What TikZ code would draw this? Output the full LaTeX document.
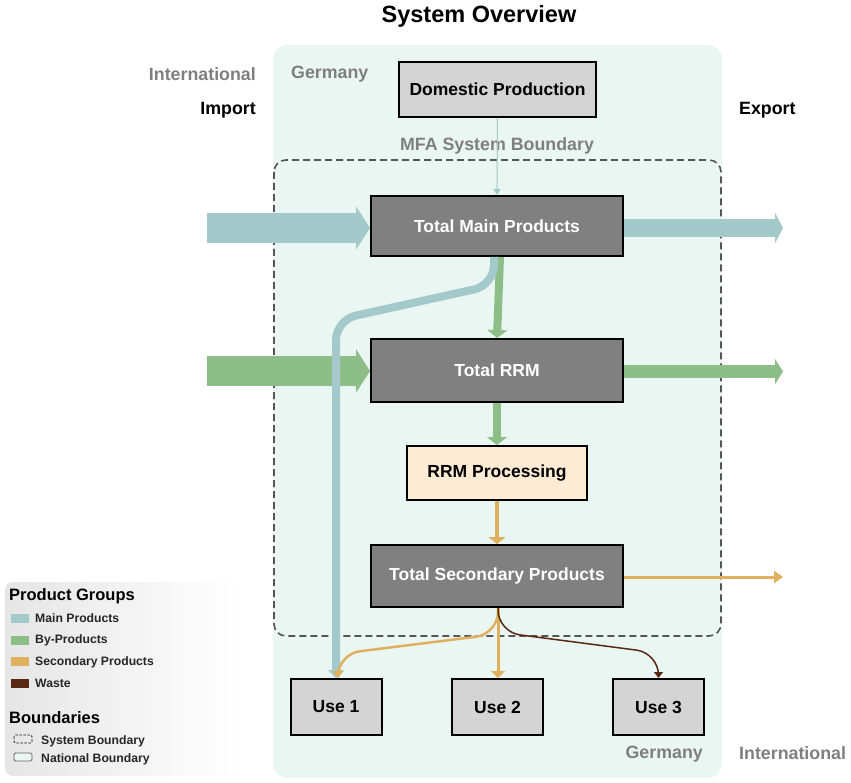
\documentclass[tikz,border=0pt]{standalone}
\usepackage{fontspec}
\setmainfont{Liberation Sans}
\usetikzlibrary{arrows.meta}
\definecolor{mainblue}{HTML}{A3C9CB}
\definecolor{bygreen}{HTML}{8DBE88}
\definecolor{secorange}{HTML}{DFB15F}
\definecolor{wastebrown}{HTML}{5A2812}
\definecolor{natmint}{HTML}{EAF6F2}
\definecolor{darkbox}{HTML}{808080}
\definecolor{lightbox}{HTML}{D4D4D4}
\definecolor{procfill}{HTML}{FDEBD3}
\definecolor{labelgray}{HTML}{7F7F7F}
\definecolor{dashgray}{HTML}{555555}
\tikzset{
  lbl/.style={font=\fontsize{17.8}{20}\selectfont\bfseries, inner sep=0pt},
  graylbl/.style={lbl, text=labelgray},
  boxbase/.style={draw=black, line width=2pt, font=\fontsize{17.5}{20}\selectfont\bfseries, inner sep=0pt, align=center},
  darkbx/.style={boxbase, fill=darkbox, text=white, minimum width=252pt},
  lightbx/.style={boxbase, fill=lightbox, text=black},
  usebx/.style={lightbx, minimum width=91pt, minimum height=56pt},
  legtitle/.style={font=\fontsize{16.5}{18}\selectfont\bfseries, inner sep=0pt, anchor=west},
  legtext/.style={font=\fontsize{12.2}{14}\selectfont\bfseries, inner sep=0pt, anchor=west, text=black!85},
}
\begin{document}
\begin{tikzpicture}[x=1pt,y=-1pt]
\useasboundingbox (0,0) rectangle (851,783);
\fill[white] (0,0) rectangle (851,783);

% national boundary
\fill[natmint, rounded corners=14pt] (273,45) rectangle (722,778);
% system boundary
\draw[dashgray, line width=1.6pt, dash pattern=on 7pt off 4pt, rounded corners=12pt] (274,160) rectangle (721,636);

% title and labels
\node[font=\fontsize{23.5}{26}\selectfont\bfseries, inner sep=0pt] (title) at (479,16) {System Overview};
\node[graylbl, anchor=east] (intl1) at (256,74) {International};
\node[graylbl, anchor=west] (ger1) at (291,74) {Germany};
\node[lbl, anchor=east] (import) at (256,110) {Import};
\node[lbl, anchor=west] (export) at (739,110) {Export};
\node[graylbl] (mfa) at (497,146) {MFA System Boundary};
\node[graylbl, anchor=east] (ger2) at (703,754) {Germany};
\node[graylbl, anchor=west] (intl2) at (739,753) {International};

% boxes
\node[lightbx, minimum width=197pt, minimum height=55pt] (dom) at (497.5,89.5) {Domestic Production};
\node[darkbx, minimum height=60pt] (tmp) at (497,226) {Total Main Products};
\node[darkbx, minimum height=63pt] (trrm) at (497,370.5) {Total RRM};
\node[boxbase, fill=procfill, minimum width=180pt, minimum height=54pt] (proc) at (497,473) {RRM Processing};
\node[darkbx, minimum height=62pt] (tsp) at (497,576) {Total Secondary Products};
\node[usebx] (u1) at (336,707) {Use 1};
\node[usebx] (u2) at (497.5,707) {Use 2};
\node[usebx] (u3) at (658.5,707) {Use 3};

% coordinates for free ends
\coordinate (impA) at (207,228);
\coordinate (impB) at (207,371);
\coordinate (expA) at (783,228);
\coordinate (expB) at (783,371.5);
\coordinate (expC) at (783,577);

% import / export arrows
\draw[mainblue, line width=30pt, -{Triangle[width=43pt,length=14pt]}] (impA) -- (impA -| tmp.west);
\draw[bygreen, line width=30pt, -{Triangle[width=43pt,length=14pt]}] (impB) -- (impB -| trrm.west);
\draw[mainblue, line width=18pt, -{Triangle[width=30pt,length=8pt]}] (expA -| tmp.east) -- (expA);
\draw[bygreen, line width=13pt, -{Triangle[width=25pt,length=8pt]}] (expB -| trrm.east) -- (expB);
\draw[secorange, line width=3pt, -{Triangle[width=12pt,length=9pt]}] (expC -| tsp.east) -- (expC);

% vertical flows
\draw[mainblue, line width=1pt, -{Triangle[width=7pt,length=6pt]}] (dom.south) -- (tmp.north);
\draw[bygreen, line width=8pt, -{Triangle[width=20pt,length=8pt]}] ([xshift=3pt]tmp.south) -- ([xshift=0pt]trrm.north);
\draw[bygreen, line width=8pt, -{Triangle[width=20pt,length=8pt]}] (trrm.south) -- (proc.north);
\draw[secorange, line width=4.5pt, -{Triangle[width=17pt,length=7pt]}] (proc.south) -- (tsp.north);

% main products bypass to Use 1
\draw[mainblue, line width=8pt, rounded corners=20pt, -{Triangle[width=16pt,length=8pt]}]
  ([xshift=-3pt]tmp.south) -- (494,285) -- (336,320) -- (u1.north);

% secondary products to uses
\draw[secorange, line width=2.5pt, rounded corners=22pt, -{Triangle[width=11pt,length=7pt]}]
  ([xshift=1pt]tsp.south) -- (498,634) -- (338,654) -- ([xshift=2pt]u1.north);
\draw[secorange, line width=3pt, -{Triangle[width=14pt,length=7pt]}]
  ([xshift=1pt]tsp.south) -- ([xshift=0.5pt]u2.north);
\draw[wastebrown, line width=1.5pt, rounded corners=22pt, -{Triangle[width=9pt,length=6pt]}]
  ([xshift=1pt]tsp.south) -- (498,632) -- (658.5,653) -- (u3.north);

% legend
\shade[rounded corners=8pt, left color=black!10, right color=white] (5,582) rectangle (240,776);
\node[legtitle] (lgPG) at (9,596) {Product Groups};
\fill[mainblue] (11,614) rectangle (29,623);
\node[legtext] (lgMP) at (35,618.5) {Main Products};
\fill[bygreen] (11,636) rectangle (29,645);
\node[legtext] (lgBP) at (35,640.5) {By-Products};
\fill[secorange] (11,657) rectangle (29,666);
\node[legtext] (lgSP) at (35,662) {Secondary Products};
\fill[wastebrown] (11,679) rectangle (29,688);
\node[legtext] (lgW) at (35,683.5) {Waste};
\node[legtitle] (lgB) at (9,718) {Boundaries};
\draw[black!90, line width=0.9pt, dash pattern=on 2.5pt off 1.5pt, rounded corners=1.5pt] (14,735) rectangle (32,743);
\node[legtext] (lgSB) at (41,741.5) {System Boundary};
\draw[black!60, line width=0.8pt, fill=natmint, rounded corners=1.5pt] (14,753) rectangle (32,761);
\node[legtext] (lgNB) at (41,759) {National Boundary};
\end{tikzpicture}
\end{document}
